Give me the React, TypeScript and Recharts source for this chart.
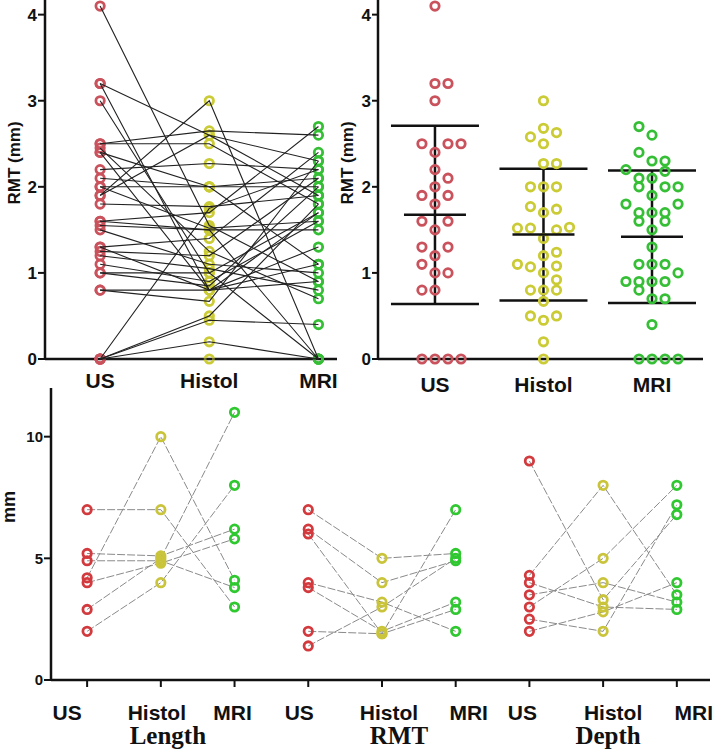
import React from 'react';
import { ScatterChart, Scatter, XAxis, YAxis, ErrorBar } from 'recharts';

const methods = ['US', 'Histol', 'MRI'];
const groupNames = ['Length', 'RMT', 'Depth'];

// paired RMT (mm), one entry per case
const pairedUS = [4.1, 3.2, 3.2, 3.0, 2.5, 2.5, 2.45, 2.4, 2.4, 2.2, 2.1, 2.0, 2.0, 1.9, 1.9, 1.8, 1.6, 1.6, 1.55, 1.5, 1.3, 1.3, 1.25, 1.2, 1.1, 1.0, 1.0, 0.8, 0.8, 0, 0, 0, 0, 0];
const pairedHistol = [1.55, 2.6, 0.8, 1.0, 2.65, 2.5, 1.25, 0.8, 2.0, 2.27, 2.0, 2.0, 1.52, 3.0, 2.6, 1.77, 1.7, 1.5, 1.5, 1.1, 1.4, 0.8, 1.2, 1.05, 0.9, 1.0, 0.85, 0.8, 0.67, 1.75, 0.5, 0.45, 0.2, 0];
const pairedMRI = [0.9, 2.3, 1.1, 0, 2.6, 1.8, 0.7, 1.7, 1.1, 2.2, 2.1, 2.0, 1.6, 0, 1.9, 1.9, 2.7, 1.5, 0, 1.0, 2.4, 0.9, 2.1, 0.8, 1.6, 1.7, 2.0, 1.3, 2.3, 2.2, 1.8, 0.4, 0, 0];

// column scatter: value + beeswarm slot
const usRMT = [4.1, 3.2, 3.2, 3.0, 2.5, 2.5, 2.5, 2.4, 2.2, 2.1, 2.0, 1.9, 1.9, 1.8, 1.6, 1.6, 1.5, 1.3, 1.3, 1.2, 1.1, 1.0, 1.0, 0.8, 0.8, 0, 0, 0, 0];
const usSlot = [0, 0, 1, 0, -1, 1, 2, 0, 0, 1, 0, -1, 1, 0, -1, 1, 0, -1, 1, 0, -1, 0, 1, -1, 0, -1, 0, 1, 2];
const histolRMT = [3.0, 2.68, 2.63, 2.58, 2.5, 2.27, 2.27, 2.0, 2.0, 2.0, 1.77, 1.74, 1.7, 1.52, 1.52, 1.5, 1.53, 1.4, 1.24, 1.2, 1.1, 1.07, 1.08, 1.0, 0.92, 0.8, 0.8, 0.8, 0.67, 0.5, 0.5, 0.45, 0.2, 0];
const histolSlot = [0, 0, 1, -1, 0, 0, 1, -1, 0, 1, -1, 1, 0, -2, -1, 1, 2, 0, 1, 0, -2, -1, 1, 0, 1, -1, 0, 1, 0, -1, 1, 0, 0, 0];
const mriRMT = [2.7, 2.6, 2.4, 2.3, 2.3, 2.2, 2.18, 2.1, 2.1, 2.0, 2.0, 2.0, 1.9, 1.8, 1.8, 1.7, 1.7, 1.7, 1.6, 1.6, 1.5, 1.3, 1.1, 1.1, 1.1, 1.0, 0.9, 0.9, 0.9, 0.9, 0.8, 0.7, 0.7, 0.4, 0, 0, 0, 0];
const mriSlot = [-1, 0, -1, 0, 1, -2, 1, -1, 0, -1, 1, 2, 0, -2, 2, -1, 0, 1, -1, 1, 0, 0, -1, 0, 1, 2, -2, -1, 0, 1, -1, 0, 1, 0, -1, 0, 1, 2];
const meanRMT = [1.675, 1.445, 1.42];
const sdRMT = [1.035, 0.765, 0.77];

// bottom: paired measurements (mm)
const lengthUS = [7.0, 5.2, 4.9, 4.2, 4.0, 2.9, 2.0];
const lengthHistol = [7.0, 5.1, 4.9, 10.0, 4.8, 5.0, 4.0];
const lengthMRI = [3.0, 6.2, 3.8, 4.1, 5.8, 11.0, 8.0];
const rmtUS = [7.0, 6.2, 6.0, 4.0, 3.8, 2.0, 1.4];
const rmtHistol = [5.0, 4.0, 1.9, 3.2, 2.0, 1.9, 3.0];
const rmtMRI = [5.2, 4.9, 7.0, 2.0, 3.2, 2.9, 5.0];
const depthUS = [9.0, 4.3, 4.0, 3.5, 3.0, 2.5, 2.0];
const depthHistol = [3.3, 8.0, 3.0, 4.0, 5.0, 2.0, 2.8];
const depthMRI = [6.8, 3.5, 2.9, 3.2, 8.0, 7.2, 4.0];

const SANS = '"Liberation Sans", Arial, sans-serif';
const SERIF = '"Liberation Serif", "Times New Roman", serif';
const topColors = ['#c9525c', '#cbcb36', '#36bf36'];
const bottomColors = ['#d23a3e', '#c9c43a', '#30c830'];
const SLOT = 0.12; // column offset per beeswarm slot
const bottomShift = [-20, -4, -2, -9, 7, 13, -7, 10, 17];
const titleShift = [7, 17, 5];

const axisLine = { stroke: '#111', strokeWidth: 2.5 };
const tickLine = { stroke: '#111', strokeWidth: 2 };

const ring = (color: string, r = 4.2) => (p: any) => (
  <circle cx={p.cx} cy={p.cy} r={r} fill="none" stroke={color} strokeWidth={2.8} />
);
const noDot = () => <g />;
const meanBar = (p: any) => (
  <line x1={p.cx - 31} x2={p.cx + 31} y1={p.cy} y2={p.cy} stroke="#111" strokeWidth={2.5} />
);

const yTitle = (text: string, x: number, y: number, size: number) => () => (
  <text x={x} y={y} transform={`rotate(-90 ${x} ${y})`} textAnchor="middle" dominantBaseline="central"
    fontSize={size} fontWeight="bold" fontFamily={SANS} fill="#111">{text}</text>
);

const TopTick = (p: any) => (
  <text x={p.x} y={p.y + 27} textAnchor="middle" fontSize={21} fontWeight="bold" fontFamily={SANS} fill="#111">
    {methods[p.payload.value]}
  </text>
);

const BottomTick = (p: any) => {
  const i = p.payload.value;
  const g = Math.floor(i / 3);
  return (
    <g>
      <text x={p.x + bottomShift[i]} y={p.y + 33} textAnchor="middle" fontSize={21} fontWeight="bold" fontFamily={SANS} fill="#111">
        {methods[i % 3]}
      </text>
      {i % 3 === 1 && (
        <text x={p.x + titleShift[g]} y={p.y + 57} textAnchor="middle" fontSize={25} fontWeight="bold" fontFamily={SERIF} fill="#111">
          {groupNames[g]}
        </text>
      )}
    </g>
  );
};

const yTick = (size: number) => ({ fill: '#111', fontSize: size, fontWeight: 'bold', fontFamily: SANS });

function PairedPanel() {
  const cases = pairedUS.map((u, k) => [
    { x: 0, y: u },
    { x: 1, y: pairedHistol[k] },
    { x: 2, y: pairedMRI[k] },
  ]);
  const cols = [pairedUS, pairedHistol, pairedMRI].map((vals, m) => vals.map((v) => ({ x: m, y: v })));
  return (
    <ScatterChart width={360} height={395} margin={{ top: 0, right: 23, bottom: 0, left: 0 }}>
      <XAxis type="number" dataKey="x" domain={[-0.505, 2.17]} ticks={[0, 1, 2]} height={36}
        axisLine={axisLine} tickLine={false} tickSize={0} tick={TopTick} />
      <YAxis type="number" dataKey="y" domain={[0, 4.17]} ticks={[0, 1, 2, 3, 4]} width={45}
        axisLine={axisLine} tickLine={tickLine} tickSize={7} tickMargin={1} tick={yTick(17)}
        label={yTitle('RMT (mm)', 14, 163, 17)} />
      {cols.map((d, m) => (
        <Scatter key={'p' + m} data={d} shape={ring(topColors[m])} isAnimationActive={false} />
      ))}
      {cases.map((d, k) => (
        <Scatter key={'c' + k} data={d} line={{ stroke: '#222', strokeWidth: 1.1 }} shape={noDot} isAnimationActive={false} />
      ))}
    </ScatterChart>
  );
}

function ColumnPanel() {
  const cols = [
    [usRMT, usSlot],
    [histolRMT, histolSlot],
    [mriRMT, mriSlot],
  ].map(([vals, slots], m) => vals.map((v, k) => ({ x: m + slots[k] * SLOT, y: v })));
  const means = meanRMT.map((v, m) => ({ x: m, y: v, sd: sdRMT[m] }));
  return (
    <ScatterChart width={392} height={395} margin={{ top: 0, right: 19, bottom: 0, left: 0 }}>
      <XAxis type="number" dataKey="x" domain={[-0.525, 2.47]} ticks={[0, 1, 2]} height={36}
        axisLine={axisLine} tickLine={false} tickSize={0} tick={(p: any) => <TopTick {...p} y={p.y + 4} />} />
      <YAxis type="number" dataKey="y" domain={[0, 4.17]} ticks={[0, 1, 2, 3, 4]} width={48}
        axisLine={axisLine} tickLine={tickLine} tickSize={6} tickMargin={1} tick={yTick(17)}
        label={yTitle('RMT (mm)', 17, 163, 17)} />
      {cols.map((d, m) => (
        <Scatter key={'p' + m} data={d} shape={ring(topColors[m])} isAnimationActive={false} />
      ))}
      <Scatter data={means} shape={meanBar} isAnimationActive={false}>
        <ErrorBar dataKey="sd" direction="y" width={44} stroke="#111" strokeWidth={2.5} />
      </Scatter>
    </ScatterChart>
  );
}

function GroupsPanel() {
  const groups = [
    [lengthUS, lengthHistol, lengthMRI],
    [rmtUS, rmtHistol, rmtMRI],
    [depthUS, depthHistol, depthMRI],
  ];
  const cases = groups.flatMap((g, gi) =>
    g[0].map((_, k) => g.map((vals, m) => ({ x: gi * 3 + m, y: vals[k] })))
  );
  const cols = [0, 1, 2].map((m) => groups.flatMap((g, gi) => g[m].map((v) => ({ x: gi * 3 + m, y: v }))));
  return (
    <ScatterChart width={722} height={370} margin={{ top: 8, right: 12, bottom: 0, left: 0 }}>
      <XAxis type="number" dataKey="x" domain={[-0.49, 8.45]} ticks={[0, 1, 2, 3, 4, 5, 6, 7, 8]} height={70}
        axisLine={axisLine} tickLine={tickLine} tickSize={7} tickMargin={0} tick={BottomTick} />
      <YAxis type="number" dataKey="y" domain={[0, 12]} ticks={[0, 5, 10]} width={51}
        axisLine={axisLine} tickLine={tickLine} tickSize={7} tickMargin={1} tick={yTick(15)}
        label={yTitle('mm', 9, 127, 18)} />
      {cases.map((d, k) => (
        <Scatter key={'c' + k} data={d} line={{ stroke: '#8a8a8a', strokeWidth: 1, strokeDasharray: '8 2' }}
          shape={noDot} isAnimationActive={false} />
      ))}
      {cols.map((d, m) => (
        <Scatter key={'p' + m} data={d} shape={ring(bottomColors[m])} isAnimationActive={false} />
      ))}
    </ScatterChart>
  );
}

export default function App() {
  return (
    <div style={{ position: 'absolute', left: 0, top: 0, width: 722, height: 750, background: '#fff', overflow: 'hidden' }}>
      <div style={{ position: 'absolute', left: 0, top: 380 }}>
        <GroupsPanel />
      </div>
      <div style={{ position: 'absolute', left: 0, top: 0 }}>
        <PairedPanel />
      </div>
      <div style={{ position: 'absolute', left: 330, top: 0 }}>
        <ColumnPanel />
      </div>
    </div>
  );
}
